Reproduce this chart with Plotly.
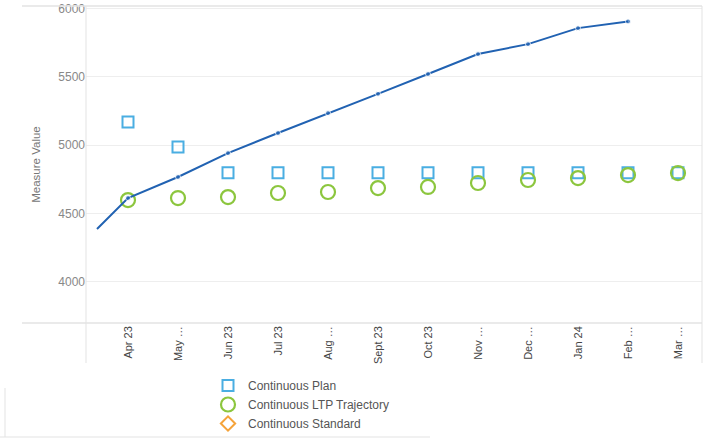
import plotly.graph_objects as go

months = ["Apr 23", "May …", "Jun 23", "Jul 23", "Aug …", "Sept 23", "Oct 23",
          "Nov …", "Dec …", "Jan 24", "Feb …", "Mar …"]
month_idx = list(range(len(months)))

# Measure Value line (first point sits before Apr 23)
measure_x = [-0.62, 0, 1, 2, 3, 4, 5, 6, 7, 8, 9, 10]
measure_y = [4385, 4612, 4766, 4941, 5088, 5234, 5375, 5520, 5666, 5739, 5856, 5905]

plan_y = [5168, 4985, 4797, 4797, 4797, 4797, 4797, 4797, 4797, 4797, 4797, 4797]
ltp_y = [4597, 4612, 4619, 4649, 4656, 4685, 4693, 4722, 4744, 4758, 4780, 4795]
standard_y = [None] * 12

W, H = 723, 441
L, R, T, B = 86, 702, 6, 323
pw, ph = R - L, B - T

def px(x):
    return (x - L) / pw

def py(y):
    return (B - y) / ph

fig = go.Figure()
fig.add_trace(go.Scatter(
    x=month_idx, y=plan_y, mode="markers", name="Continuous Plan",
    marker=dict(symbol="square-open", size=11, color="#4aaee2", line=dict(width=2)),
))
fig.add_trace(go.Scatter(
    x=month_idx, y=ltp_y, mode="markers", name="Continuous LTP Trajectory",
    marker=dict(symbol="circle-open", size=14, color="#8cc63e", line=dict(width=2.2)),
))
fig.add_trace(go.Scatter(
    x=month_idx, y=standard_y, mode="markers", name="Continuous Standard",
    marker=dict(symbol="diamond-open", size=11, color="#f5a33a", line=dict(width=2)),
))
fig.add_trace(go.Scatter(
    x=measure_x, y=measure_y, mode="lines+markers", name="Measure Value",
    showlegend=False,
    line=dict(color="#2162b2", width=2),
    marker=dict(size=[0] + [5] * 11, color="#2162b2"),
))

grey = "#e3e3e3"
shapes = [
    dict(type="line", xref="paper", yref="paper", x0=px(22), x1=px(R), y0=py(T), y1=py(T),
         line=dict(color=grey, width=1.5)),
    dict(type="line", xref="paper", yref="paper", x0=px(22), x1=px(R), y0=py(B), y1=py(B),
         line=dict(color=grey, width=1.5)),
    dict(type="line", xref="paper", yref="paper", x0=px(L), x1=px(L), y0=py(T), y1=py(363),
         line=dict(color=grey, width=1)),
    dict(type="line", xref="paper", yref="paper", x0=px(R), x1=px(R), y0=py(T), y1=py(363),
         line=dict(color=grey, width=1)),
    dict(type="line", xref="paper", yref="paper", x0=px(5), x1=px(5), y0=py(388), y1=py(437),
         line=dict(color=grey, width=1)),
    dict(type="line", xref="paper", yref="paper", x0=px(0), x1=px(430), y0=py(437), y1=py(437),
         line=dict(color=grey, width=1)),
]

fig.update_layout(
    width=W, height=H,
    margin=dict(l=L, r=W - R, t=T, b=H - B, autoexpand=False),
    paper_bgcolor="white", plot_bgcolor="white",
    font=dict(family="Arial, Liberation Sans, sans-serif", color="#555"),
    showlegend=True,
    legend=dict(
        x=px(208), y=py(371), xanchor="left", yanchor="top",
        font=dict(size=12, color="#555"), bgcolor="rgba(0,0,0,0)",
        tracegroupgap=0, itemwidth=30,
    ),
    shapes=shapes,
    hovermode=False,
)
fig.update_xaxes(
    range=[-0.84, 11.48], tickmode="array", tickvals=month_idx, ticktext=months,
    tickangle=-90, showgrid=False, zeroline=False, showline=False, automargin=False,
    tickfont=dict(size=11, color="#444"), ticks="",
)
fig.update_yaxes(
    range=[3697, 6018], dtick=500, tick0=0, showgrid=True, gridcolor="#eeeeee",
    zeroline=False, showline=False, automargin=False, tickfont=dict(size=12, color="#888"),
    title=dict(text="Measure Value", font=dict(size=11.5, color="#777"), standoff=15),
    ticks="",
)

fig.write_html(
    "out.html",
    config={"displayModeBar": False},
    post_script="document.body.style.margin='0';document.body.style.overflow='hidden';",
)
